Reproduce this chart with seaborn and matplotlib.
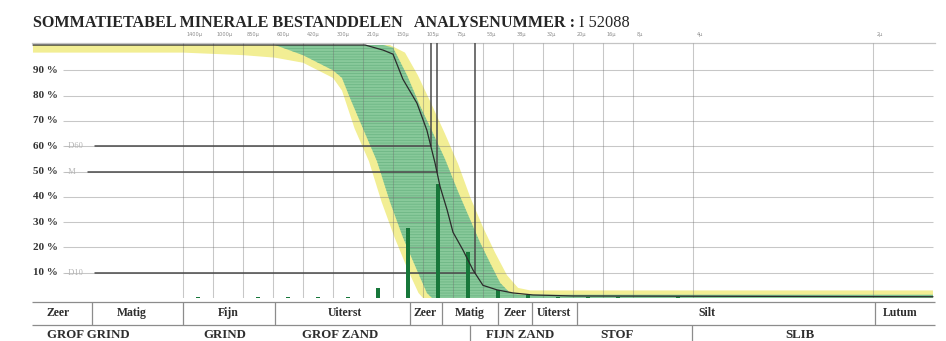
import matplotlib
matplotlib.use("Agg")
import matplotlib.pyplot as plt
import numpy as np
import pandas as pd
import seaborn as sns

# ---------------- data ----------------
# sieve classes: positions of the vertical rulings (column units) and their labels
sieve_pos = [4, 5, 6, 7, 8, 9, 10, 11, 12, 13, 14, 15, 16, 17, 18, 19, 21, 27]
sieve_labels = ["1400μ", "1000μ", "850μ", "600μ", "420μ", "300μ", "210μ", "150μ",
                "105μ", "75μ", "53μ", "38μ", "32μ", "20μ", "16μ", "8μ", "4μ", "2μ"]
percent_levels = [10, 20, 30, 40, 50, 60, 70, 80, 90]

# cumulative curve (% passing)
curve_pos = [-1.0, 10.07, 10.67, 11.0, 11.33, 11.8, 12.13, 12.4, 12.57, 12.8, 13.0,
             13.33, 13.67, 14.0, 14.47, 15.0, 15.67, 17.0, 29.0]
curve_pct = [100, 100, 98, 96.4, 86.5, 77, 66.3, 53.4, 44, 35, 26,
             19, 11, 5, 3.2, 2, 1.2, 0.8, 0.5]

# fraction per sieve class (%)
fraction_pos = [4.5, 6.5, 7.5, 8.5, 9.5, 10.5, 11.5, 12.5, 13.5, 14.5, 15.5, 16.5, 17.5, 18.5, 20.5]
fraction_pct = [0.4, 0.4, 0.4, 0.4, 0.4, 4, 27.5, 45, 18, 3, 1, 0.3, 0.3, 0.3, 0.3]

# reference envelope (inner green, outer yellow)
green_fine_pos = [-1.0, 10.67, 11.0, 11.47, 11.9, 12.3, 12.73, 13.17, 13.57, 13.9, 14.23, 14.57, 14.9, 15.23, 29]
green_fine_pct = [100, 100, 99, 88, 76, 66, 55, 42, 31, 22, 14, 6, 2, 1.3, 1.3]
green_coarse_pos = [-1.0, 7.07, 8.0, 9.0, 9.3, 9.57, 10.0, 10.47, 10.9, 11.33, 11.8, 12.13, 12.3, 29]
green_coarse_pct = [100, 100, 96, 90, 87, 79, 67, 54, 38, 24, 11, 2, 0, 0]
yellow_fine_pos = [-1.0, 10.9, 11.4, 11.83, 12.23, 12.73, 13.17, 13.57, 14.0, 14.4, 14.8, 15.17, 15.57, 29]
yellow_fine_pct = [100, 100, 97, 88, 78, 65, 53, 40, 28, 18, 9, 4, 3, 3]
yellow_coarse_pos = [-1.0, 4, 6, 7.07, 8.0, 9.0, 9.3, 9.72, 10.2, 10.62, 11.05, 11.5, 11.85, 12.0, 29]
yellow_coarse_pct = [97, 97, 96, 95, 93, 87, 82, 67, 54, 38, 24, 11, 2, 0, 0]

# classification table
row1_labels = ["Zeer", "Matig", "Fijn", "Uiterst", "Zeer", "Matig", "Zeer", "Uiterst", "Silt", "Lutum"]
row2_labels = ["GROF GRIND", "GRIND", "GROF ZAND", "FIJN ZAND", "STOF", "SLIB"]

title_text = "SOMMATIETABEL MINERALE BESTANDDELEN   ANALYSENUMMER :"
analysis_no = "I 52088"

# ---------------- style ----------------
sns.set_theme(style="white")
plt.rcParams["font.family"] = ["Liberation Serif", "DejaVu Serif"]
plt.rcParams["hatch.linewidth"] = 0.5

W, H = 946, 341
fig = plt.figure(figsize=(W / 100, H / 100), dpi=100)
fig.patch.set_facecolor("white")

XL, XR = -1.033, 29.067
Y_TOP = 100.8
ax = fig.add_axes([32 / W, 43 / H, 903 / W, 255 / H])
ax.set_facecolor("none")

dark_c = "#4a4a4a"


def band(hi_pos, hi_pct, lo_pos, lo_pct, **kw):
    xs = list(hi_pos) + list(lo_pos)[::-1]
    ys = list(hi_pct) + list(lo_pct)[::-1]
    ax.fill(xs, ys, **kw)


band(yellow_fine_pos, yellow_fine_pct, yellow_coarse_pos, yellow_coarse_pct,
     facecolor="#f2ee94", edgecolor="none", linewidth=0, zorder=1)
band(green_fine_pos, green_fine_pct, green_coarse_pos, green_coarse_pct,
     facecolor="#88c99a", edgecolor="#69b381", hatch="------", linewidth=0, zorder=2)

# rulings (translucent so they darken the shaded band like printed lines)
ax.hlines(percent_levels, 0, 29, colors="#6e6e6e", alpha=0.38, linewidth=0.75, zorder=3)
ax.vlines(sieve_pos, 0, Y_TOP, colors="#6e6e6e", alpha=0.38, linewidth=0.75, zorder=3)

# fraction bars
sns.barplot(x=fraction_pos, y=fraction_pct, native_scale=True, width=0.15,
            color="#17773a", saturation=1, errorbar=None, linewidth=0,
            edgecolor="#17773a", ax=ax, zorder=5)

# cumulative curve
sns.lineplot(x=curve_pos, y=curve_pct, sort=False, estimator=None,
             color="#2b2b2b", linewidth=0.9, ax=ax, zorder=6)

# characteristic diameters: D60, median, D10
pct_rev = curve_pct[::-1]
pos_rev = curve_pos[::-1]
marks = [(60, "D60", 1.07), (50, "M", 0.83), (10, "D10", 1.07)]
for lvl, name, start in marks:
    xd = float(np.interp(lvl, pct_rev, pos_rev))
    ax.plot([start, xd], [lvl, lvl], color=dark_c, linewidth=1.1, zorder=4)
    ax.plot([xd, xd], [lvl, Y_TOP], color=dark_c, linewidth=1.1, zorder=4)
    ax.text(0.02, lvl, "–" + name, color="#b3b3b3", fontsize=6,
            ha="left", va="center", zorder=7)

# percentage labels
for lvl in percent_levels:
    ax.text(-1.0, lvl, f"{lvl} %", fontsize=8, fontweight="bold", color="#333333",
            ha="left", va="center", clip_on=False, zorder=7)

# sieve labels above the frame
for p, lab in zip(sieve_pos, sieve_labels):
    ax.text(p + 0.12, 104.3, lab, fontsize=3.6, color="#8a8a8a",
            family="DejaVu Sans", ha="left", va="center", clip_on=False)

ax.set_xlim(XL, XR)
ax.set_ylim(0, Y_TOP)
ax.set_xticks([])
ax.set_yticks([])
ax.set_xlabel("")
ax.set_ylabel("")
for side in ["left", "right", "bottom"]:
    ax.spines[side].set_visible(False)
ax.spines["top"].set_color("#c4c4c4")
ax.spines["top"].set_linewidth(0.9)

# ---------------- classification table ----------------
tax = fig.add_axes([32 / W, 0, 903 / W, 40 / H])
tax.set_xlim(XL, XR)
tax.set_ylim(0, 40)
tax.axis("off")
line_c = "#8c8c8c"
tax.hlines([39.5, 16], XL, XR, colors=line_c, linewidth=0.9, clip_on=False)

row1_edges = [0.97, 4.0, 7.07, 11.57, 12.63, 14.5, 15.63, 17.13, 27.07]
row1_centers = [-0.17, 2.3, 5.5, 9.4, 12.07, 13.57, 15.07, 16.35, 21.47, 27.9]
tax.vlines(row1_edges, 16, 39.5, colors=line_c, linewidth=0.9)
for c, lab in zip(row1_centers, row1_labels):
    tax.text(c, 28, lab, fontsize=8.5, fontweight="bold", color="#2e2e2e",
             ha="center", va="center")

row2_seps = [13.57, 20.97]
row2_centers = [0.83, 5.4, 9.23, 15.23, 18.47, 24.57]
tax.vlines(row2_seps, 0, 16, colors=line_c, linewidth=0.9)
for c, lab in zip(row2_centers, row2_labels):
    tax.text(c, 5.5, lab, fontsize=9.3, fontweight="bold", color="#2e2e2e",
             ha="center", va="center")

# ---------------- title ----------------
t = fig.text(33 / W, 1 - 23 / H, title_text, fontsize=11.6, fontweight="bold",
             color="#262626", ha="left", va="center")
ann = ax.annotate(analysis_no, xy=(1, 0.5), xycoords=t, xytext=(3, 0),
                  textcoords="offset points", fontsize=11.8, color="#262626",
                  ha="left", va="center", annotation_clip=False)

fig.savefig("out.png", dpi=100, facecolor="white")
